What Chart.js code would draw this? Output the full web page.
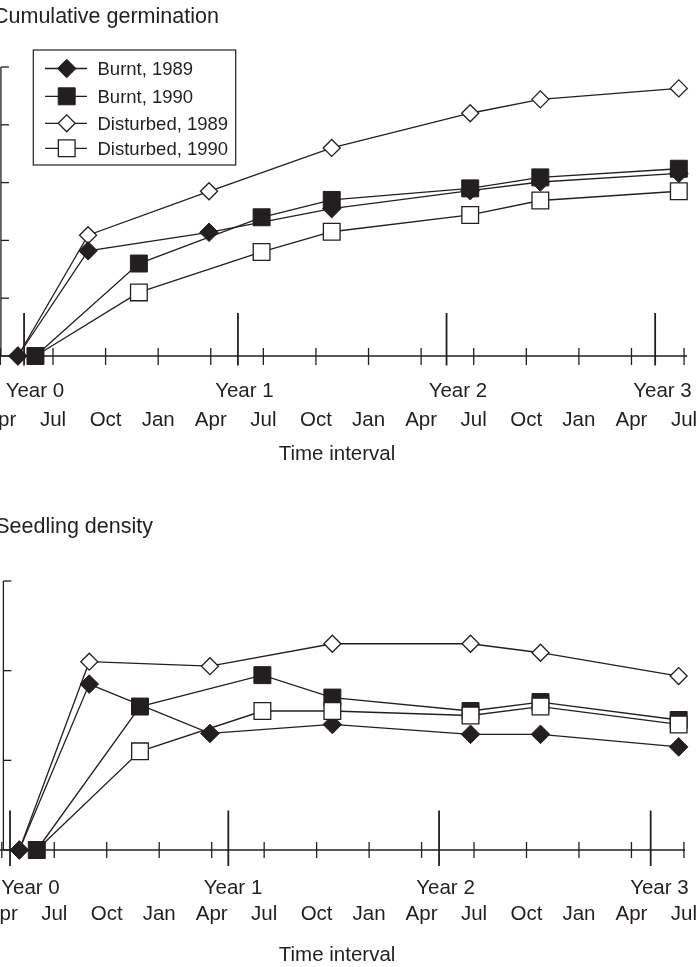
<!DOCTYPE html>
<html>
<head>
<meta charset="utf-8">
<script src="https://cdn.jsdelivr.net/npm/chart.js@4/dist/chart.umd.min.js"></script>
<style>
  html, body { margin: 0; padding: 0; background: #ffffff; }
  #wrap { position: relative; width: 699px; height: 967px; overflow: hidden; background: #ffffff; }
  canvas { position: absolute; left: 0; }
  #germ { top: 0; }
  #dens { top: 480px; }
</style>
</head>
<body>
<div id="wrap">
  <canvas id="germ" width="699" height="480"></canvas>
  <canvas id="dens" width="699" height="487"></canvas>
</div>
<script>
const INK = '#231f20';
const FONT = '"Liberation Sans", Arial, Helvetica, sans-serif';

// Sampling dates in months after 1 April of the first season
const months1989 = [1.0, 5.0, 11.9, 18.9, 26.8, 30.8, 38.7];
const months1990 = [2.0, 7.9, 14.9, 18.9, 26.8, 30.8, 38.7];

const seriesNames = ['Burnt, 1989', 'Burnt, 1990', 'Disturbed, 1989', 'Disturbed, 1990'];

// Cumulative germination
const germBurnt1989     = [0, 1.82, 2.14, 2.55, 2.86, 3.01, 3.16];
const germBurnt1990     = [0, 1.60, 2.40, 2.70, 2.90, 3.09, 3.24];
const germDisturbed1989 = [0, 2.09, 2.85, 3.60, 4.20, 4.44, 4.63];
const germDisturbed1990 = [0, 1.10, 1.80, 2.15, 2.44, 2.69, 2.85];

// Seedling density
const densBurnt1989     = [0, 1.85, 1.30, 1.40, 1.29, 1.29, 1.15];
const densBurnt1990     = [0, 1.60, 1.95, 1.70, 1.55, 1.65, 1.45];
const densDisturbed1989 = [0, 2.10, 2.05, 2.30, 2.30, 2.20, 1.94];
const densDisturbed1990 = [0, 1.10, 1.55, 1.55, 1.50, 1.60, 1.40];

// Time axis
const monthTicks  = [0, 3, 6, 9, 12, 15, 18, 21, 24, 27, 30, 33, 36, 39];
const monthLabels = ['Apr', 'Jul', 'Oct', 'Jan', 'Apr', 'Jul', 'Oct', 'Jan', 'Apr', 'Jul', 'Oct', 'Jan', 'Apr', 'Jul'];
const yearLabels  = ['Year 0', 'Year 1', 'Year 2', 'Year 3'];
const germYearTicks   = [1.35, 13.55, 25.45, 37.35];
const germYearLabelAt = [1.97, 13.92, 26.1, 37.77];
const densYearTicks   = [0.47, 12.95, 25.0, 37.1];
const densYearLabelAt = [1.64, 13.22, 25.37, 37.6];
const germYTicks = [0, 1, 2, 3, 4, 5];
const densYTicks = [0, 1, 2, 3];

// marker look for each series
const markerStyles = [
  { pointStyle: 'rectRot', radius: 9.3, fill: INK, border: 1 },
  { pointStyle: 'rect', radius: 12, fill: INK, border: 1 },
  { pointStyle: 'rectRot', radius: 8.5, fill: '#ffffff', border: 1.3 },
  { pointStyle: 'rect', radius: 11.8, fill: '#ffffff', border: 1.3 }
];
// lower value is painted on top
const paintOrder = [2, 1, 3, 0];

function buildDatasets(valueSets) {
  return valueSets.map((vals, i) => {
    const times = i % 2 === 0 ? months1989 : months1990;
    const st = markerStyles[i];
    // the open square at the origin sits under the filled one
    const radius = i === 3 ? vals.map((v, k) => (k === 0 ? 0 : st.radius)) : st.radius;
    return {
      label: seriesNames[i],
      data: times.map((m, k) => ({ x: m, y: vals[k] })),
      borderColor: INK,
      borderWidth: 1.3,
      backgroundColor: st.fill,
      pointStyle: st.pointStyle,
      pointRadius: radius,
      pointHoverRadius: radius,
      pointBackgroundColor: st.fill,
      pointBorderColor: INK,
      pointBorderWidth: st.border,
      tension: 0,
      fill: false,
      clip: false,
      order: paintOrder[i]
    };
  });
}

function seg(ctx, x1, y1, x2, y2) {
  ctx.beginPath();
  ctx.moveTo(x1, y1);
  ctx.lineTo(x2, y2);
  ctx.stroke();
}

function drawMarker(ctx, st, x, y) {
  const r = st.radius;
  ctx.beginPath();
  if (st.pointStyle === 'rectRot') {
    ctx.moveTo(x - r, y);
    ctx.lineTo(x, y - r);
    ctx.lineTo(x + r, y);
    ctx.lineTo(x, y + r);
    ctx.closePath();
  } else {
    const s = r * Math.SQRT1_2;
    ctx.rect(x - s, y - s, 2 * s, 2 * s);
  }
  ctx.fillStyle = st.fill;
  ctx.fill();
  ctx.lineWidth = st.border;
  ctx.strokeStyle = INK;
  ctx.stroke();
}

// Axes with crossing quarter ticks, long year ticks and two rows of labels
const timeAxisPlugin = {
  id: 'timeAxis',
  beforeDatasetsDraw(chart, args, o) {
    const { ctx, scales: { x, y } } = chart;
    const base = y.getPixelForValue(0);
    ctx.save();
    ctx.strokeStyle = INK;
    ctx.lineCap = 'butt';
    ctx.lineWidth = 1.3;
    // vertical axis
    const ax = x.getPixelForValue(o.yAxisAt);
    seg(ctx, ax, y.getPixelForValue(o.yTicks[o.yTicks.length - 1]), ax, base);
    o.yTicks.forEach(v => {
      const py = y.getPixelForValue(v);
      seg(ctx, ax, py, ax + 8, py);
    });
    // time axis
    seg(ctx, x.getPixelForValue(o.axisFrom), base, x.getPixelForValue(o.axisTo), base);
    monthTicks.forEach(m => {
      const px = x.getPixelForValue(m);
      seg(ctx, px, base - o.minorUp, px, base + o.minorDown);
    });
    ctx.lineWidth = 1.8;
    o.yearTicks.forEach(m => {
      const px = x.getPixelForValue(m);
      seg(ctx, px, base - o.yearUp, px, base + o.yearDown);
    });
    ctx.restore();
  },
  afterDraw(chart, args, o) {
    const { ctx, scales: { x, y } } = chart;
    const base = y.getPixelForValue(0);
    ctx.save();
    ctx.fillStyle = INK;
    ctx.textBaseline = 'alphabetic';
    // panel title
    ctx.font = '21.5px ' + FONT;
    ctx.textAlign = 'left';
    ctx.fillText(o.title, o.titleX, o.titleY);
    // axis labels
    ctx.font = '20.5px ' + FONT;
    ctx.textAlign = 'center';
    yearLabels.forEach((t, i) => {
      ctx.fillText(t, x.getPixelForValue(o.yearLabelAt[i]), base + o.yearRow);
    });
    monthLabels.forEach((t, i) => {
      ctx.fillText(t, x.getPixelForValue(monthTicks[i]), base + o.monthRow);
    });
    ctx.fillText('Time interval', x.getPixelForValue(o.axisTitleAt), base + o.axisTitleRow);

    // legend
    if (o.legend) {
      const L = o.legend;
      ctx.lineWidth = 1.2;
      ctx.strokeStyle = INK;
      ctx.strokeRect(L.x, L.y, L.w, L.h);
      ctx.font = '18.5px ' + FONT;
      ctx.textAlign = 'left';
      seriesNames.forEach((name, i) => {
        const ry = L.rows[i];
        ctx.lineWidth = 1.3;
        ctx.strokeStyle = INK;
        seg(ctx, L.lineFrom, ry, L.lineTo, ry);
        drawMarker(ctx, markerStyles[i], L.markerX, ry);
        ctx.fillStyle = INK;
        ctx.fillText(name, L.textX, ry + 6.6);
      });
    }
    ctx.restore();
  }
};

function makeChart(id, valueSets, yMax, pad, axisOpts) {
  return new Chart(document.getElementById(id), {
    type: 'line',
    data: { datasets: buildDatasets(valueSets) },
    options: {
      responsive: false,
      animation: false,
      events: [],
      layout: { padding: pad, autoPadding: false },
      scales: {
        x: { type: 'linear', display: false, min: 0, max: 39.5 },
        y: { type: 'linear', display: false, min: 0, max: yMax }
      },
      plugins: {
        legend: { display: false },
        tooltip: { enabled: false },
        timeAxis: axisOpts
      }
    },
    plugins: [timeAxisPlugin]
  });
}

makeChart('germ',
  [germBurnt1989, germBurnt1990, germDisturbed1989, germDisturbed1990],
  5,
  { left: 0.4, right: 6.16, top: 67, bottom: 124 },
  {
    title: 'Cumulative germination', titleX: -7, titleY: 23.3,
    yTicks: germYTicks, yAxisAt: 0.03,
    axisFrom: -0.05, axisTo: 39.17,
    minorUp: 8, minorDown: 9,
    yearTicks: germYearTicks, yearUp: 43, yearDown: 9.5,
    yearLabelAt: germYearLabelAt,
    yearRow: 41.3, monthRow: 70, axisTitleAt: 19.2, axisTitleRow: 103.7,
    legend: {
      x: 33.3, y: 50, w: 202.4, h: 115,
      rows: [68.5, 96.3, 123.3, 148.3],
      markerX: 66.7, lineFrom: 45, lineTo: 87, textX: 97.5
    }
  });

makeChart('dens',
  [densBurnt1989, densBurnt1990, densDisturbed1989, densDisturbed1990],
  3,
  { left: 1.8, right: 6.34, top: 101, bottom: 117 },
  {
    title: 'Seedling density', titleX: -4.8, titleY: 53.3,
    yTicks: densYTicks, yAxisAt: 0.09,
    axisFrom: -0.11, axisTo: 39.06,
    minorUp: 8, minorDown: 8,
    yearTicks: densYearTicks, yearUp: 39.5, yearDown: 16,
    yearLabelAt: densYearLabelAt,
    yearRow: 44.3, monthRow: 70, axisTitleAt: 19.17, axisTitleRow: 110.7,
    legend: null
  });
</script>
</body>
</html>
